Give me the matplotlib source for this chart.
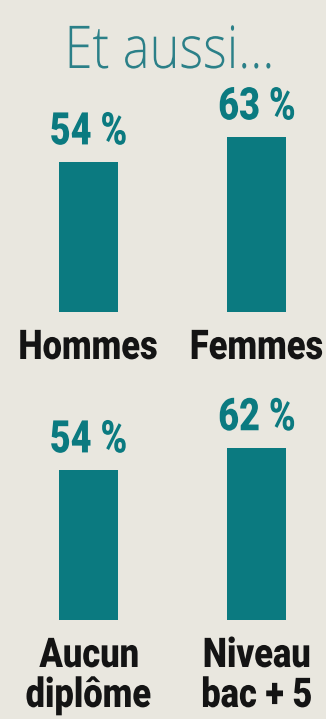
import matplotlib
matplotlib.use("Agg")
import matplotlib.pyplot as plt
from matplotlib.textpath import TextPath
from matplotlib.patches import PathPatch
from matplotlib.font_manager import FontProperties
from matplotlib.transforms import Affine2D

# Share of respondents, by sex and by diploma level
sex_labels = ["Hommes", "Femmes"]
sex_values = [54, 63]

edu_labels = ["Aucun\ndiplôme", "Niveau\nbac + 5"]
edu_values = [54, 62]

BG = "#e9e7df"
BAR = "#0b7a80"
TITLE = "#2b8088"
INK = "#141414"

W, H = 326, 719

fig = plt.figure(figsize=(W / 100, H / 100), dpi=100)
fig.patch.set_facecolor(BG)


def squeezed(x, y, s, size, color, family="Roboto", weight="black", sx=0.82):
    """Draw text centred on x with its baseline at y (display pixels),
    squeezed horizontally to mimic a condensed face."""
    prop = FontProperties(family=family, weight=weight)
    path = TextPath((0, 0), s, size=size, prop=prop)
    ext = path.get_extents()
    cx = (ext.x0 + ext.x1) / 2
    tr = Affine2D().translate(-cx, 0).scale(sx, 1).translate(x, y)
    fig.add_artist(PathPatch(path, transform=tr, facecolor=color, lw=0))


squeezed(170, H - 68, "Et aussi...", 59, TITLE, family="Open Sans",
         weight="light", sx=0.86)


def panel(bottom_px, labels, values):
    ax = fig.add_axes([0, (H - bottom_px) / H, 1, 277 / H])
    ax.set_facecolor("none")
    ax.bar(range(len(values)), values, width=0.35, color=BAR)
    ax.set_xlim(-0.525, 1.41)
    ax.set_ylim(0, 100)
    ax.axis("off")
    for i, (lab, v) in enumerate(zip(labels, values)):
        x, top = ax.transData.transform((i, v))
        _, base = ax.transData.transform((i, 0))
        squeezed(x, top + 18, f"{v} %", 45, BAR, sx=0.8)
        for k, line in enumerate(lab.split("\n")):
            squeezed(x, base - 47 - 40 * k, line, 41, INK, sx=0.84)
    return ax


panel(312, sex_labels, sex_values)
panel(620, edu_labels, edu_values)

fig.savefig("out.png", dpi=100, facecolor=BG)
